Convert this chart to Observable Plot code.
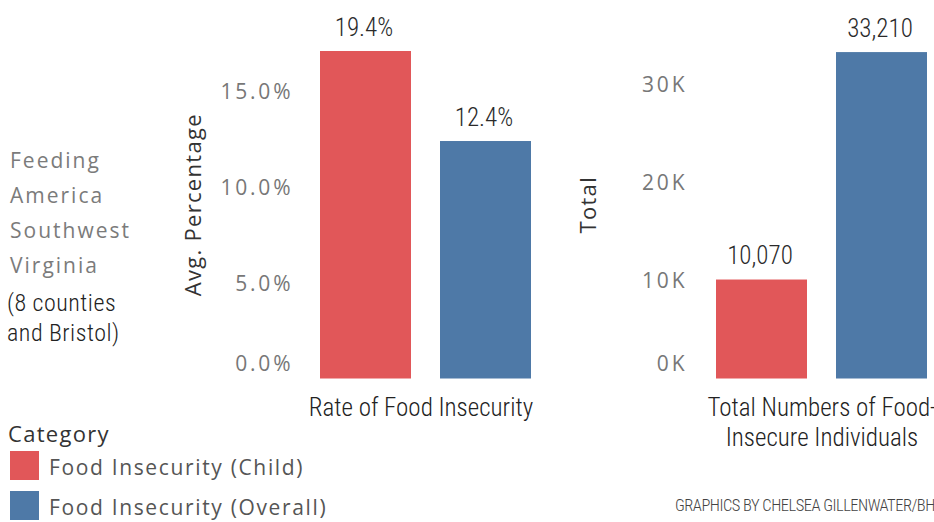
<!DOCTYPE html>
<html>
<head>
<meta charset="utf-8">
<script src="https://cdn.jsdelivr.net/npm/d3@7"></script>
<script src="https://cdn.jsdelivr.net/npm/@observablehq/plot@0.6"></script>
<style>
  html, body { margin: 0; padding: 0; background: #fff; overflow: hidden; }
  #wrap { position: relative; width: 934px; height: 522px; overflow: hidden; background: #fff; }
  #wrap svg { position: absolute; top: 0; overflow: visible; }
  .cond { font-family: "Roboto Condensed", Roboto, sans-serif; font-weight: 300; }
  .book { font-family: "Open Sans", Lato, sans-serif; }
  #side { position: absolute; left: 10px; top: 143px; }
  #side .g { font-size: 21px; line-height: 35px; color: #7b7b7b; letter-spacing: 2px; }
  #side .c { font-size: 24px; line-height: 30px; color: #222; margin-left: -3px; margin-top: 5px; letter-spacing: 0.5px; }
  #legend { position: absolute; left: 8px; top: 418px; }
  #legend .title { font-size: 22px; color: #333; line-height: 30px; letter-spacing: 1.3px; }
  #legend .item { position: relative; height: 40px; }
  #legend .sw { position: absolute; left: 2px; top: 3px; width: 29px; height: 29px; }
  #legend .lab { position: absolute; left: 41px; top: 2px; font-size: 21px; line-height: 35px; color: #555; letter-spacing: 1.65px; white-space: nowrap; }
  #caption { position: absolute; left: 675px; top: 496px; font-size: 16.5px; color: #444; white-space: nowrap; letter-spacing: -0.5px; }
</style>
</head>
<body>
<div id="wrap">
  <div id="side">
    <div class="g book">Feeding<br>America<br>Southwest<br>Virginia</div>
    <div class="c cond">(8 counties<br>and Bristol)</div>
  </div>
  <div id="legend" class="book"></div>
  <div id="caption" class="cond">GRAPHICS BY CHELSEA GILLENWATER/BHC</div>
</div>
<script>
// ---- data ----
const categories = ["Food Insecurity (Child)", "Food Insecurity (Overall)"];
const colors = ["#e15759", "#4e79a7"];
const rateValues = [19.4, 12.4];
const totalValues = [10070, 33210];
const rateTicks = [0, 5, 10, 15];
const totalTicks = [0, 10000, 20000, 30000];
const rateGroupLabel = "Rate of Food Insecurity";
const totalGroupLabel = "Total Numbers of Food-\nInsecure Individuals";
const rateAxisTitle = "Avg. Percentage";
const totalAxisTitle = "Total";
const legendTitle = "Category";

const rateData = categories.map((c, i) => ({category: c, value: rateValues[i]}));
const totalData = categories.map((c, i) => ({category: c, value: totalValues[i]}));

const COND = '"Roboto Condensed", Roboto, sans-serif';
const BOOK = '"Open Sans", Lato, sans-serif';
const wrap = document.getElementById("wrap");

function panel({data, ticks, domain, tickFmt, valFmt, title, titleDx, group, groupDx, width, marginLeft, marginRight, left, tickDx}) {
  const svg = Plot.plot({
    width, height: 430,
    marginLeft, marginRight, marginTop: 51, marginBottom: 51.5,
    style: {background: "transparent", overflow: "visible"},
    x: {domain: categories, paddingInner: 0.2417, paddingOuter: 0.1208, axis: null},
    y: {domain, clamp: true, axis: null},
    color: {domain: categories, range: colors},
    marks: [
      Plot.barY(data, {x: "category", y: "value", fill: "category"}),
      Plot.text(data, {x: "category", y: "value", text: d => valFmt(d.value), lineAnchor: "bottom", dy: -16, dx: -2,
        fontSize: 25, fill: "#2a2a2a", fontFamily: COND, fontWeight: 300}),
      Plot.text(ticks, {filter: d => d > 0, y: d => d, text: d => tickFmt(d), frameAnchor: "left", textAnchor: "end",
        dx: tickDx, dy: 1, fontSize: 21, fill: "#777", fontFamily: BOOK}),
      Plot.text(ticks, {filter: d => d === 0, y: d => d, text: d => tickFmt(d), frameAnchor: "left", textAnchor: "end",
        dx: tickDx, dy: -15, fontSize: 21, fill: "#777", fontFamily: BOOK}),
      Plot.text([title], {text: d => d, frameAnchor: "left", textAnchor: "middle", rotate: -90, dx: titleDx, dy: -10.5,
        fontSize: 22, fill: "#333", fontFamily: BOOK}),
      Plot.text([group], {text: d => d, frameAnchor: "bottom", lineAnchor: "top", dy: 16, dx: groupDx, lineHeight: 1.2,
        fontSize: 25, fill: "#222", fontFamily: COND, fontWeight: 300})
    ]
  });
  svg.style.left = left + "px";
  // Tableau-like letter spacing for the book-face texts
  d3.select(svg).selectAll('g[fill="#777"] text').style("letter-spacing", "2.8px");
  d3.select(svg).selectAll('g[fill="#333"] text').style("letter-spacing", "1.3px");
  wrap.appendChild(svg);
}

panel({data: rateData, ticks: rateTicks, domain: [0, 17.1],
  tickFmt: d => d.toFixed(1) + "%", valFmt: d => d.toFixed(1) + "%",
  title: rateAxisTitle, titleDx: -112.5, group: rateGroupLabel, groupDx: -5,
  width: 570, marginLeft: 305.5, marginRight: 24.5, left: 0, tickDx: -12.7});

panel({data: totalData, ticks: totalTicks, domain: [0, 33320],
  tickFmt: d => (d / 1000) + "K", valFmt: d => d3.format(",")(d),
  title: totalAxisTitle, titleDx: -113.5, group: totalGroupLabel, groupDx: 0,
  width: 372, marginLeft: 131.5, marginRight: 0.5, left: 570, tickDx: -14.7});

// legend
const legend = d3.select("#legend");
legend.append("div").attr("class", "title").text(legendTitle);
categories.forEach((c, i) => {
  const it = legend.append("div").attr("class", "item");
  it.append("div").attr("class", "sw").style("background", colors[i]);
  it.append("div").attr("class", "lab").text(c);
});
</script>
</body>
</html>
